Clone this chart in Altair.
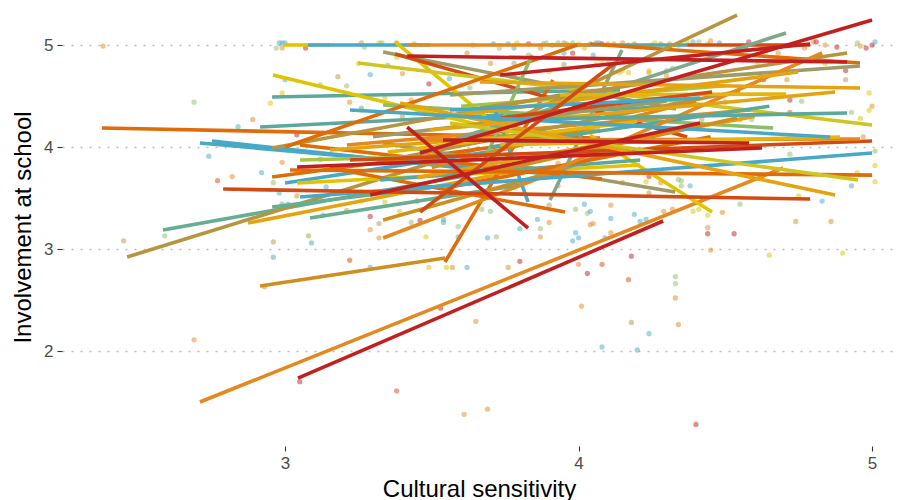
import altair as alt
import pandas as pd

PALETTE = {
    "yellow": "#E1C300", "lime": "#CDC622", "gold": "#E6B40C", "amber": "#E5A30F",
    "ochre": "#D08E1F", "khaki": "#B7943F", "olive": "#9E9B66", "sage": "#7EA88C",
    "mint": "#66AE92", "teal": "#5AA89E", "blue": "#47A9C6", "green": "#8BBE66",
    "ygreen": "#A9C43C", "orange": "#E4891F", "dorange": "#E06C08",
    "rorange": "#D14B13", "red": "#C21F1F",
}

# fitted lines per group: x start, y start, x end, y end, colour
lines_left = [
    (2.376, 4.186, 4.073, 4.088, "dorange"),
    (2.710, 4.039, 3.937, 3.725, "blue"),
    (2.751, 4.059, 3.664, 3.775, "blue"),
    (2.956, 4.490, 4.141, 4.559, "teal"),
    (2.915, 4.196, 4.414, 4.412, "teal"),
    (2.584, 3.186, 3.630, 3.725, "mint"),
    (2.462, 2.922, 3.664, 3.990, "khaki"),
    (2.874, 3.255, 3.801, 3.775, "amber"),
    (2.956, 3.706, 3.937, 4.088, "dorange"),
    (2.915, 2.637, 3.545, 2.912, "ochre"),
    (2.710, 1.500, 4.697, 3.794, "orange"),
    (3.545, 2.873, 3.913, 4.657, "dorange"),
    (2.959, 4.706, 3.664, 4.216, "yellow"),
    (2.956, 3.412, 3.562, 3.627, "mint"),
    (2.956, 3.990, 3.937, 4.510, "khaki"),
]
lines_top = [
    (3.900, 5.000, 4.370, 5.000, "teal"),
    (2.993, 5.000, 3.153, 5.000, "yellow"),
    (3.078, 5.000, 3.494, 5.000, "blue"),
    (3.416, 5.000, 4.039, 5.000, "orange"),
    (4.370, 5.000, 4.789, 5.000, "rorange"),
    (3.375, 5.030, 3.801, 4.020, "yellow"),
    (4.039, 4.118, 4.455, 3.363, "yellow"),
    (3.334, 4.931, 4.332, 4.373, "olive"),
    (3.375, 4.912, 4.370, 4.098, "rorange"),
    (4.039, 5.010, 4.959, 4.824, "dorange"),
    (3.249, 4.824, 5.000, 4.216, "lime"),
    (3.334, 4.412, 4.663, 4.186, "green"),
    (3.000, 4.000, 3.995, 5.000, "dorange"),
]
lines_mid = [
    (3.000, 3.647, 3.733, 3.971, "blue"),
    (3.041, 3.647, 4.210, 3.824, "yellow"),
    (3.085, 3.304, 3.801, 3.627, "mint"),
    (3.334, 3.284, 3.937, 3.775, "ochre"),
    (3.334, 3.108, 4.073, 3.922, "orange"),
    (3.334, 4.039, 4.329, 3.559, "olive"),
    (3.153, 3.794, 3.954, 3.363, "dorange"),
    (3.716, 4.363, 3.828, 3.461, "blue"),
    (3.051, 4.020, 4.080, 3.686, "dorange"),
    (3.051, 3.873, 4.346, 3.971, "ygreen"),
    (3.324, 3.676, 4.210, 3.873, "teal"),
    (3.153, 3.971, 4.073, 4.167, "amber"),
    (3.211, 4.020, 4.584, 4.363, "orange"),
    (3.903, 3.480, 4.148, 4.951, "sage"),
    (3.664, 3.775, 3.842, 4.902, "green"),
    (3.400, 3.900, 4.550, 4.550, "khaki"),
    (3.500, 3.800, 4.400, 4.450, "ochre"),
    (3.300, 4.100, 4.300, 4.450, "olive"),
    (3.450, 3.700, 4.600, 4.300, "amber"),
    (3.600, 4.400, 4.500, 4.600, "ygreen"),
    (3.350, 3.950, 4.200, 4.250, "gold"),
    (3.550, 3.600, 4.450, 4.100, "dorange"),
    (3.700, 4.000, 4.650, 4.400, "teal"),
]
lines_right = [
    (3.664, 4.108, 4.540, 5.294, "khaki"),
    (3.562, 4.059, 4.707, 5.118, "sage"),
    (3.664, 4.382, 4.915, 4.922, "khaki"),
    (3.562, 4.510, 4.959, 4.794, "olive"),
    (3.801, 3.627, 4.830, 4.922, "orange"),
    (3.562, 4.304, 4.748, 4.735, "amber"),
    (3.664, 4.637, 4.959, 4.578, "amber"),
    (3.494, 4.167, 4.874, 4.539, "amber"),
    (3.937, 4.510, 4.707, 4.520, "gold"),
    (3.733, 4.284, 4.455, 4.539, "rorange"),
    (3.562, 4.363, 4.414, 4.480, "blue"),
    (3.733, 3.775, 4.540, 4.284, "ochre"),
    (3.664, 4.265, 4.915, 4.333, "teal"),
    (3.051, 3.510, 5.000, 3.941, "blue"),
    (3.017, 3.775, 5.000, 3.725, "dorange"),
    (3.221, 3.873, 5.000, 4.059, "rorange"),
    (3.460, 4.069, 4.959, 4.078, "orange"),
    (3.733, 4.020, 4.891, 4.098, "gold"),
    (3.562, 4.235, 4.952, 3.676, "lime"),
    (3.392, 4.431, 4.874, 3.529, "amber"),
    (3.221, 4.363, 4.857, 4.098, "blue"),
    (2.789, 3.588, 4.789, 3.490, "rorange"),
    (3.460, 3.363, 4.124, 4.824, "rorange"),
]
lines_red = [
    (3.044, 1.735, 4.288, 3.275, "red"),
    (3.416, 4.892, 4.915, 4.833, "red"),
    (3.416, 4.196, 3.828, 3.206, "red"),
    (3.460, 3.941, 5.000, 5.245, "red"),
    (3.290, 3.529, 4.414, 4.235, "red"),
    (3.538, 4.069, 4.581, 4.039, "red"),
    (3.041, 3.804, 4.625, 3.990, "red"),
    (3.733, 4.706, 4.789, 5.010, "red"),
]

# observed points: x, y, colour
points_top = [
    (2.98, 5.02, "blue"), (2.99, 5.02, "blue"), (3.00, 5.02, "blue"), (2.97, 4.97, "green"),
    (2.99, 4.97, "orange"), (3.07, 4.97, "red"), (3.26, 5.02, "orange"), (3.27, 4.98, "green"),
    (3.32, 5.02, "yellow"), (3.33, 5.02, "green"), (3.38, 5.02, "orange"), (3.44, 5.01, "green"),
    (3.64, 5.00, "orange"), (3.71, 5.01, "blue"), (3.73, 4.97, "green"), (3.76, 5.01, "blue"),
    (3.78, 4.97, "blue"), (3.79, 5.02, "yellow"), (3.83, 5.01, "red"), (3.87, 4.97, "orange"),
    (3.88, 5.01, "olive"), (3.89, 5.02, "green"), (3.91, 5.00, "orange"), (3.93, 5.02, "green"),
    (3.95, 5.02, "khaki"), (3.96, 5.01, "green"), (3.98, 5.02, "green"), (4.00, 5.01, "yellow"),
    (4.04, 5.01, "blue"), (4.06, 5.02, "blue"), (4.07, 5.02, "blue"), (4.08, 5.01, "red"),
    (4.10, 5.01, "orange"), (4.12, 5.01, "orange"), (4.15, 5.02, "orange"), (4.17, 5.00, "khaki"),
    (4.19, 5.01, "orange"), (4.25, 5.00, "green"), (4.26, 5.02, "yellow"), (4.28, 5.01, "orange"),
    (4.31, 5.01, "orange"), (4.34, 5.00, "teal"), (4.37, 5.03, "yellow"), (4.39, 5.03, "blue"),
    (4.41, 5.03, "green"), (4.44, 5.01, "yellow"), (4.45, 5.04, "orange"), (4.48, 5.02, "blue"),
    (4.57, 4.98, "red"), (4.58, 5.03, "red"), (4.80, 5.03, "orange"), (4.81, 5.03, "red"),
    (4.84, 5.00, "orange"), (4.88, 4.98, "red"), (4.95, 5.02, "green"), (4.96, 4.99, "orange"),
    (4.98, 4.97, "red"), (5.00, 5.00, "red"), (5.01, 5.03, "blue"), (2.38, 4.99, "orange"),
]
points_left = [
    (2.69, 4.44, "green"), (2.74, 3.91, "blue"), (2.84, 4.20, "blue"), (2.89, 4.27, "orange"),
    (2.95, 4.43, "yellow"), (2.99, 4.53, "yellow"), (2.99, 3.85, "orange"), (2.77, 3.67, "rorange"),
    (2.82, 3.71, "orange"), (2.92, 3.75, "blue"), (2.96, 3.65, "green"), (2.98, 3.55, "blue"),
    (3.04, 3.52, "orange"), (2.99, 3.44, "blue"), (3.01, 3.44, "blue"), (3.04, 4.12, "red"),
    (2.45, 3.08, "khaki"), (2.96, 3.07, "khaki"), (2.59, 3.13, "green"), (3.00, 4.66, "blue"),
    (2.96, 2.92, "blue"), (2.69, 2.11, "orange"), (2.93, 2.63, "khaki"), (3.05, 1.70, "red"),
    (3.12, 4.61, "green"), (3.18, 4.69, "khaki"), (3.21, 4.60, "green"), (3.22, 4.44, "orange"),
    (3.25, 4.82, "yellow"), (3.29, 4.71, "blue"), (3.26, 4.38, "blue"), (3.26, 4.36, "yellow"),
    (3.34, 4.48, "yellow"), (3.35, 4.80, "olive"), (3.38, 4.88, "yellow"), (3.40, 4.72, "orange"),
    (3.49, 4.62, "red"), (3.56, 4.67, "blue"), (3.60, 4.61, "blue"), (3.59, 4.36, "blue"),
    (3.60, 4.33, "blue"), (3.40, 4.30, "orange"), (3.43, 4.46, "orange"), (3.45, 4.36, "yellow"),
    (3.62, 4.92, "orange"),
]
points_mid = [
    (3.70, 4.82, "orange"), (3.78, 4.82, "olive"), (3.83, 4.90, "green"), (3.90, 4.74, "yellow"),
    (3.95, 4.81, "olive"), (3.95, 4.92, "blue"), (3.98, 4.92, "red"), (4.02, 4.97, "yellow"),
    (4.05, 4.90, "blue"), (4.06, 4.81, "yellow"), (4.08, 4.82, "yellow"), (4.10, 4.82, "yellow"),
    (4.17, 4.73, "yellow"), (4.14, 4.73, "yellow"), (4.24, 4.73, "orange"), (4.30, 4.75, "green"),
    (4.32, 4.77, "green"), (3.63, 4.58, "green"), (3.78, 4.70, "red"), (3.68, 4.20, "red"),
    (4.15, 4.75, "yellow"), (4.24, 4.75, "yellow"), (4.30, 4.70, "orange"), (3.96, 4.12, "blue"),
    (4.10, 3.99, "green"), (3.93, 3.84, "orange"),
    (3.12, 3.88, "blue"), (3.14, 3.61, "blue"), (3.13, 3.33, "blue"), (3.21, 3.38, "orange"),
    (3.29, 3.32, "red"), (3.26, 3.47, "yellow"), (3.34, 3.46, "yellow"), (3.39, 3.37, "yellow"),
    (3.32, 3.25, "khaki"), (3.29, 3.19, "orange"), (3.45, 3.47, "red"), (3.46, 3.28, "red"),
    (3.43, 3.26, "green"), (3.08, 3.13, "khaki"), (3.09, 3.06, "blue"), (3.48, 3.12, "yellow"),
    (3.54, 3.29, "blue"), (3.54, 3.26, "blue"), (3.59, 3.12, "blue"), (3.59, 3.22, "green"),
    (3.32, 3.11, "orange"),
    (3.67, 3.39, "green"), (3.70, 3.37, "green"), (3.72, 3.12, "green"), (3.69, 3.11, "blue"),
    (3.80, 3.20, "blue"), (3.86, 3.29, "blue"), (3.87, 3.20, "green"), (3.90, 3.26, "orange"),
    (3.87, 3.12, "orange"), (3.90, 3.43, "khaki"), (3.93, 3.62, "orange"), (3.99, 3.39, "green"),
    (4.02, 3.44, "blue"), (4.03, 3.35, "green"), (4.04, 3.37, "blue"), (4.04, 3.24, "orange"),
    (4.05, 3.25, "orange"), (4.11, 3.30, "blue"), (4.11, 3.43, "orange"), (3.99, 3.16, "blue"),
    (4.00, 3.11, "blue"), (4.09, 3.11, "blue"), (3.98, 3.08, "blue"), (4.11, 3.16, "orange"),
    (4.15, 3.65, "orange"), (4.23, 3.66, "yellow"), (4.24, 3.71, "red"), (4.24, 3.55, "khaki"),
    (4.28, 3.65, "orange"), (4.19, 3.34, "blue"), (4.21, 3.27, "blue"), (4.23, 3.29, "blue"),
    (4.29, 3.37, "orange"), (4.32, 3.39, "orange"), (4.34, 3.68, "green"),
]
points_low = [
    (3.22, 2.89, "rorange"), (3.29, 2.82, "blue"), (3.49, 2.82, "yellow"), (3.55, 2.82, "yellow"),
    (3.57, 2.82, "orange"), (3.62, 2.82, "blue"), (3.76, 2.82, "orange"), (3.80, 2.88, "red"),
    (4.00, 2.85, "orange"), (4.03, 2.76, "red"), (4.01, 2.44, "orange"), (3.53, 2.42, "red"),
    (3.65, 2.29, "orange"), (3.38, 1.61, "rorange"), (3.61, 1.38, "orange"), (3.69, 1.43, "orange"),
    (4.08, 2.85, "rorange"), (4.18, 2.93, "red"), (4.17, 2.70, "rorange"), (4.18, 2.28, "khaki"),
    (4.24, 2.17, "blue"), (4.08, 2.04, "blue"), (4.20, 2.01, "blue"), (4.33, 2.52, "orange"),
    (4.33, 2.73, "green"), (4.33, 2.66, "green"), (4.34, 2.26, "orange"), (4.40, 1.28, "red"),
    (4.45, 2.99, "orange"), (4.65, 2.94, "yellow"), (4.90, 2.96, "yellow"),
]
points_right = [
    (4.97, 4.10, "orange"), (5.01, 3.96, "green"), (5.01, 3.82, "yellow"), (5.01, 3.66, "yellow"),
    (4.95, 3.75, "yellow"), (4.93, 3.62, "blue"), (4.83, 3.47, "blue"), (4.75, 3.52, "yellow"),
    (4.86, 3.27, "orange"), (4.74, 3.27, "orange"), (4.55, 3.44, "green"), (4.49, 3.36, "orange"),
    (4.44, 3.33, "yellow"), (4.41, 3.39, "yellow"), (4.39, 3.37, "yellow"), (4.44, 3.21, "orange"),
    (4.44, 3.15, "red"), (4.53, 3.15, "red"), (4.38, 3.62, "blue"), (4.35, 3.67, "green"),
    (4.35, 3.62, "green"),
    (4.91, 4.75, "red"), (4.91, 4.66, "olive"), (4.99, 4.53, "yellow"), (5.00, 4.40, "orange"),
    (4.99, 4.36, "yellow"), (4.93, 4.34, "green"), (4.96, 4.28, "yellow"), (4.68, 4.92, "orange"),
    (4.71, 4.66, "orange"), (4.76, 4.45, "green"), (4.72, 4.46, "red"), (4.72, 4.34, "rorange"),
    (4.50, 4.44, "orange"), (4.55, 4.27, "khaki"), (4.59, 4.27, "green"), (4.61, 4.81, "yellow"),
    (4.77, 4.97, "orange"), (4.84, 4.82, "yellow"), (4.72, 4.10, "olive"), (4.42, 4.27, "orange"),
    (4.63, 4.66, "red"), (4.72, 3.93, "green"),
]

seg_rows = lines_left + lines_top + lines_mid + lines_right + lines_red
lines_df = pd.DataFrame(seg_rows, columns=["x1", "y1", "x2", "y2", "c"])
lines_df["color"] = lines_df["c"].map(PALETTE)

pt_rows = points_top + points_left + points_mid + points_low + points_right
pts_df = pd.DataFrame(pt_rows, columns=["x", "y", "c"])
pts_df["color"] = pts_df["c"].map(PALETTE)

x_scale = alt.Scale(domain=[2.24, 5.0816], nice=False, zero=False)
y_scale = alt.Scale(domain=[1.069, 5.363], nice=False, zero=False)
x_axis = alt.Axis(values=[3, 4, 5], grid=False, format="d", labelPadding=4, titlePadding=6)
y_axis = alt.Axis(values=[2, 3, 4, 5], grid=True, format="d", labelPadding=4, titlePadding=8)

pts = alt.Chart(pts_df).mark_circle(size=28, opacity=0.5).encode(
    x=alt.X("x:Q", scale=x_scale, axis=x_axis, title="Cultural sensitivity"),
    y=alt.Y("y:Q", scale=y_scale, axis=y_axis, title="Involvement at school"),
    color=alt.Color("color:N", scale=None),
)
rules = alt.Chart(lines_df).mark_rule(strokeWidth=3.6, strokeCap="butt").encode(
    x=alt.X("x1:Q", scale=x_scale, axis=x_axis, title="Cultural sensitivity"),
    y=alt.Y("y1:Q", scale=y_scale, axis=y_axis, title="Involvement at school"),
    x2="x2:Q",
    y2="y2:Q",
    color=alt.Color("color:N", scale=None),
)

chart = alt.layer(pts, rules).properties(
    width=834, height=438,
    padding={"left": 54, "top": 0, "right": 0, "bottom": 54},
    autosize=alt.AutoSizeParams(type="none"),
).configure_view(stroke=None).configure_axis(
    domain=False, tickColor="#333333", tickWidth=1.1, tickSize=5,
    labelFont="Liberation Sans", labelFontSize=17, labelColor="#4D4D4D",
    titleFont="Liberation Sans", titleFontSize=24, titleFontWeight="normal", titleColor="#000000",
).configure_axisY(gridColor="#BBBBBB", gridDash=[2, 7], gridWidth=1.5)

chart.save("out.html", embed_options={"renderer": "svg", "actions": False})
